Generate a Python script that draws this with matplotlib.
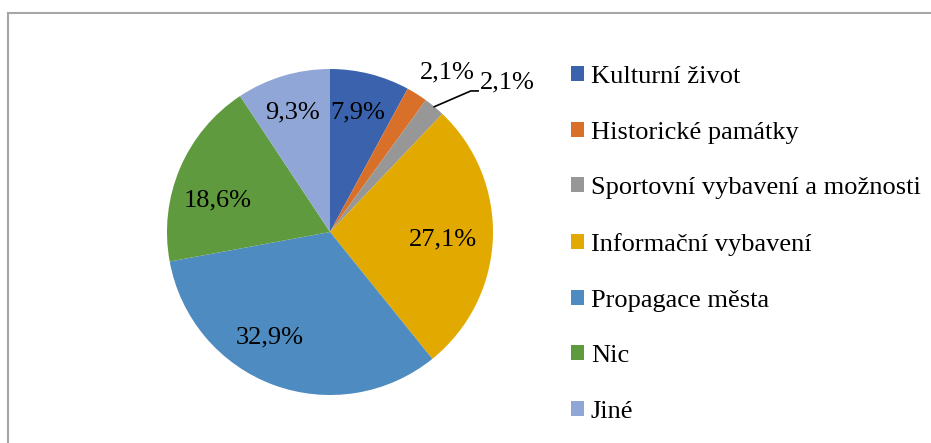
import numpy as np
import matplotlib.pyplot as plt
from matplotlib.lines import Line2D

# --- data ---
categories = ["Kulturní život", "Historické památky", "Sportovní vybavení a možnosti",
              "Informační vybavení", "Propagace města", "Nic", "Jiné"]
values = [7.9, 2.1, 2.1, 27.1, 32.9, 18.6, 9.3]
colors = ["#3A62AD", "#D9702A", "#979797", "#E2A900", "#4E8BC0", "#5F9A3E", "#8FA6D7"]

plt.rcParams['font.family'] = ['Liberation Serif', 'DejaVu Serif']
FS = 19

fig = plt.figure(figsize=(9.31, 4.43), dpi=100)

# pie axes: centre (330, 232) px, radius 163 px
R = 163
cx, cy = 330, 232
half = 1.5 * R
ax = fig.add_axes([(cx - half) / 931, (443 - cy - half) / 443, 2 * half / 931, 2 * half / 443])

wedges, texts, autotexts = ax.pie(
    values, colors=colors, startangle=90, counterclock=False,
    autopct=lambda p: f"{p:.1f}".replace('.', ',') + "%", pctdistance=0.73,
    wedgeprops=dict(linewidth=0), textprops=dict(fontsize=FS, color='black'))
ax.set_xlim(-1.5, 1.5)
ax.set_ylim(-1.5, 1.5)
ax.axis('off')

# small slices: labels outside
def mid_angle(w):
    return np.deg2rad((w.theta1 + w.theta2) / 2)

a1 = mid_angle(wedges[1])
autotexts[1].set_position((1.23 * np.cos(a1 - 0.06), 1.23 * np.sin(a1 - 0.06) - 0.018))

a2 = mid_angle(wedges[2])
lx, ly = 1.10 * np.cos(a2), 1.10 * np.sin(a2)
autotexts[2].set_position((lx + 0.213, ly + 0.07))
autotexts[2].set_ha('left')
ax.plot([np.cos(a2), lx + 0.16, lx + 0.205], [np.sin(a2), ly + 0.02, ly + 0.02],
        color='black', lw=1.2, clip_on=False)

# other labels nudged
dy = -0.018
autotexts[3].set_position((0.69, -0.03 + dy))
autotexts[4].set_position((-0.37, -0.63 + dy))
autotexts[5].set_position((-0.69, 0.21 + dy))
autotexts[0].set_position((0.17, 0.75 + dy))
autotexts[6].set_position((-0.23, 0.75 + dy))

# legend
leg = fig.legend(wedges, categories, loc='upper left',
                 bbox_to_anchor=(571 / 931, 1 - 66 / 443), frameon=False,
                 fontsize=FS, handlelength=0.5, handleheight=0.5,
                 handletextpad=0.25, labelspacing=1.275, borderpad=0, borderaxespad=0)

# chart frame
gray = '#A6A6A6'
fig.add_artist(Line2D([7.5 / 931, 7.5 / 931], [0, 1 - 13 / 443], color=gray, lw=1.5))
fig.add_artist(Line2D([7.5 / 931, 1], [1 - 13 / 443, 1 - 13 / 443], color=gray, lw=1.5))

fig.savefig('out.png', dpi=100)
